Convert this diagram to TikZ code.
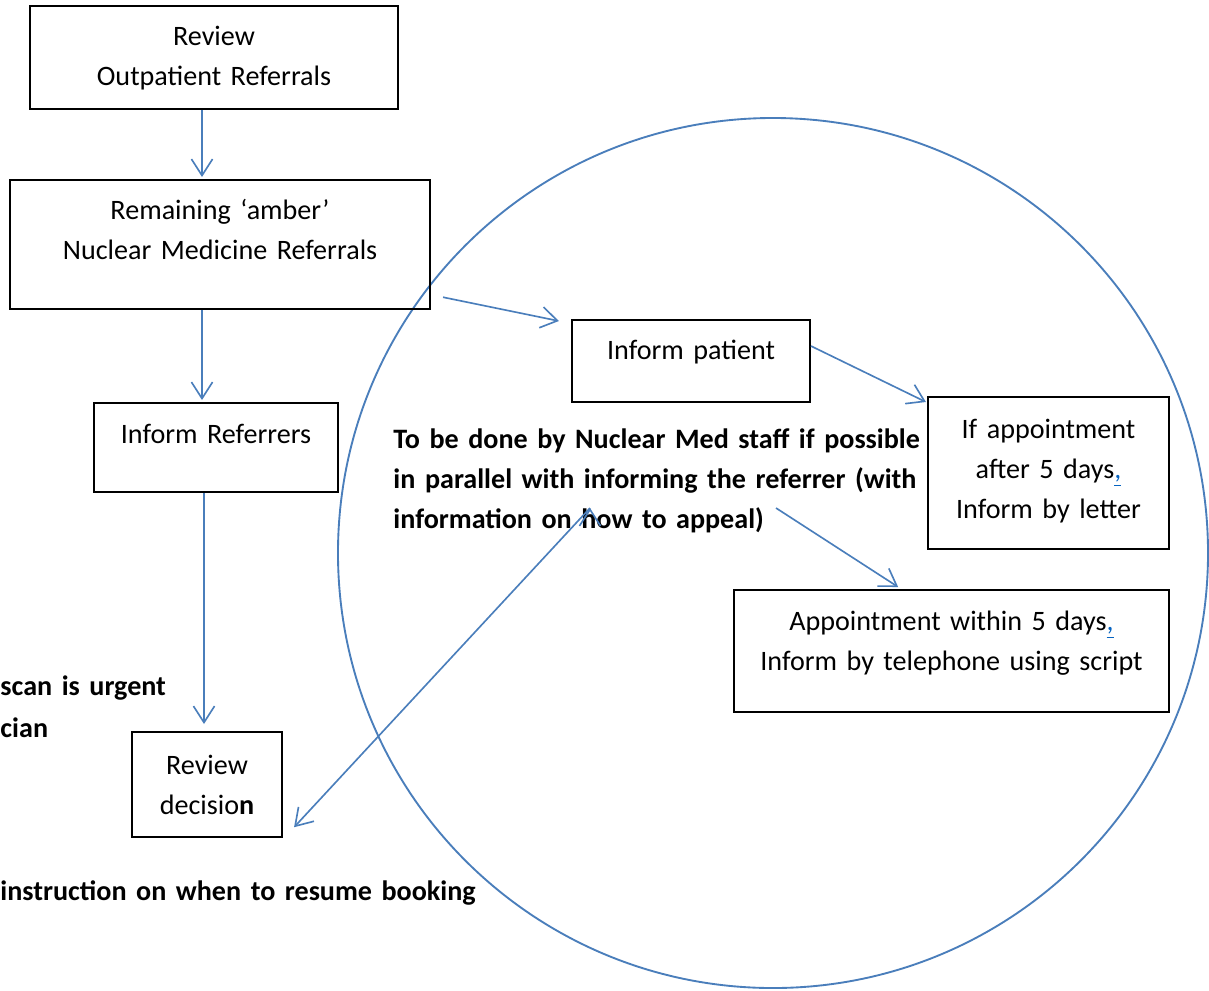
\documentclass[tikz,border=0pt]{standalone}
\usepackage{fontspec}
\setmainfont{Carlito}[WordSpace=1.5]
\usetikzlibrary{arrows.meta}
\definecolor{lineblue}{HTML}{4A7EBB}
\definecolor{linkblue}{HTML}{0563C1}
\newcommand{\lcomma}{\textcolor{linkblue}{\underline{,}}}

\begin{document}
\begin{tikzpicture}[x=0.015cm,y=-0.015cm,>={Straight Barb[length=7pt,width=9pt]},
	every node/.style={font=\fontsize{12}{17}\selectfont},
	box/.style={draw,line width=0.9pt,align=center,inner sep=0pt,anchor=north},
	note/.style={font=\fontsize{12}{17}\selectfont\bfseries,align=left,inner sep=0pt},
	arr/.style={->,draw=lineblue,line width=0.7pt}]

\useasboundingbox (0,0) rectangle (1209,990);

\node[draw=lineblue,line width=0.8pt,circle,minimum size=13.05cm,inner sep=0pt] (zone) at (773,553) {};

\node[box,minimum width=5.52cm,text height=1.185cm,text depth=0.36cm]	(rev) at (214,5)	{Review\\Outpatient Referrals};
\node[box,minimum width=6.3cm,text height=1.185cm,text depth=0.75cm]	(amber) at (220,179)	{Remaining `amber'\\Nuclear Medicine Referrals};
\node[box,minimum width=3.66cm,text height=0.6cm,text depth=0.735cm]	(refs) at (216,402)	{Inform Referrers};
\node[box,minimum width=2.25cm,text height=1.23cm,text depth=0.345cm]	(dec) at (207,731)	{Review\\decisio\textbf{n}};
\node[box,minimum width=3.57cm,text height=0.585cm,text depth=0.645cm]	(pat) at (691,319)	{Inform patient};
\node[box,minimum width=3.615cm,text height=1.815cm,text depth=0.465cm]	(late) at (1048.5,396)	{If appointment\\after 5 days\lcomma\\Inform by letter};
\node[box,minimum width=6.525cm,text height=1.2cm,text depth=0.63cm]	(soon) at (951.5,589)	{Appointment within 5 days\lcomma\\Inform by telephone using script};

\node[note,anchor=north west,text height=1.62cm,text depth=0pt]	(note) at (393,420)
	{To be done by Nuclear Med staff if possible\\in parallel with informing the referrer (with\\information on how to appeal)};
\node[note,anchor=base west]	(urgent) at (0,695)	{scan is urgent};
\node[note,anchor=base west]	(clin) at (0,737)	{cian};
\node[note,anchor=base west]	(resume) at (0,900)	{instruction on when to resume booking};

\coordinate (noteL) at (590,508);
\coordinate (noteR) at (776,508);

\path[arr]	([xshift=-0.18cm]rev.south)	edge	([xshift=-0.27cm,yshift=0.03cm]amber.north)
			([xshift=-0.27cm]amber.south)	edge	([xshift=-0.21cm,yshift=0.03cm]refs.north)
			([xshift=-0.18cm]refs.south)	edge	([xshift=-0.045cm,yshift=0.105cm]dec.north)
			([xshift=0.18cm,yshift=-0.79cm]amber.east)	edge	([xshift=-0.18cm,yshift=-0.03cm]pat.north west)
			([yshift=0.225cm]pat.east)	edge	([xshift=-0.015cm,yshift=-0.09cm]late.north west)
			(noteR)	edge	([xshift=-0.8cm,yshift=0.03cm]soon.north)
			(noteL)	edge	([xshift=0.165cm,yshift=-0.64cm]dec.east);
\end{tikzpicture}
\end{document}
